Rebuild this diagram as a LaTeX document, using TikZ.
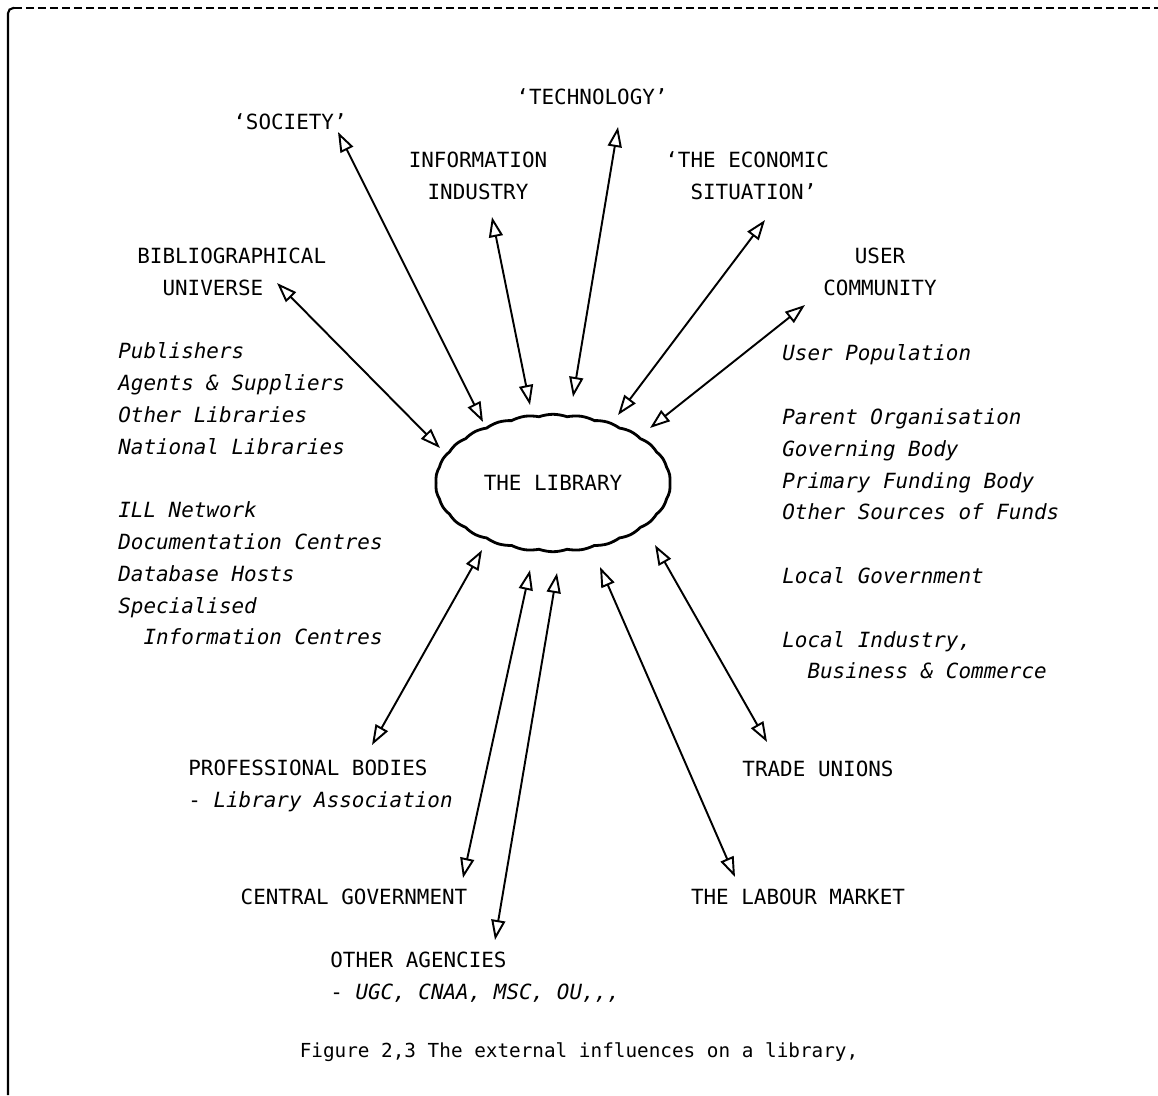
\documentclass[tikz,border=0pt]{standalone}
\usepackage{fontspec}
\setmainfont{DejaVu Sans Mono}
\usetikzlibrary{arrows.meta, shapes.symbols}

\begin{document}
\begin{tikzpicture}[
    x=0.02cm, y=-0.02cm,
    influence/.style={
        inner sep=0pt,
        font=\fontsize{11.9}{18.1}\selectfont
    },
    detail/.style={
        inner sep=0pt,
        align=left,
        anchor=west,
        font=\fontsize{11.9}{18.1}\selectfont\itshape
    },
    library/.style={
        cloud,
        draw,
        line width=1.6pt,
        cloud puffs=26,
        cloud puff arc=40,
        aspect=1.7,
        minimum width=4.7cm,
        minimum height=2.75cm,
        inner sep=0pt,
        font=\fontsize{11.9}{18.1}\selectfont
    },
    link/.style={{Triangle[open,length=4mm,width=2.8mm]}-{Triangle[open,length=4mm,width=2.8mm]}, line width=1.1pt}
]
\useasboundingbox (0,0) rectangle (1158,1095);

% frame of the page
\draw[line width=1.2pt, rounded corners=3pt] (8,1095) -- (8,8) -- (14,8);
\draw[line width=1.5pt, dash pattern=on 1.7mm off 0.7mm] (14,8) -- (1158,8);

% the library
\node[library] (lib) at (553,483) {THE LIBRARY};

% upper influences
\node[influence] (society) at (290,122) {`SOCIETY'};
\node[influence] (tech) at (592,97) {`TECHNOLOGY'};
\node[influence, align=center] (infoind) at (478,176) {INFORMATION\\INDUSTRY};
\node[influence, align=left, anchor=west] (economy) at (665,176) {`THE ECONOMIC\\\phantom{`T}SITUATION'};
\node[influence, align=left, anchor=west] (biblio) at (137,272) {BIBLIOGRAPHICAL\\\phantom{BI}UNIVERSE};
\node[influence, align=center] (users) at (880,272) {USER\\COMMUNITY};

% lists beside the library
\node[detail] (suppliers) at (118,496) {Publishers\\Agents \& Suppliers\\Other Libraries\\National Libraries\\[18.1pt]ILL Network\\Documentation Centres\\Database Hosts\\Specialised\\\phantom{Sp}Information Centres};
\node[detail] (funders) at (782,512) {User Population\\[18.1pt]Parent Organisation\\Governing Body\\Primary Funding Body\\Other Sources of Funds\\[18.1pt]Local Government\\[18.1pt]Local Industry,\\\phantom{Lo}Business \& Commerce};

% lower influences
\node[influence, align=left, anchor=west] (prof) at (188,786) {PROFESSIONAL BODIES\\- \textit{Library Association}};
\node[influence] (central) at (354,897) {CENTRAL GOVERNMENT};
\node[influence, align=left, anchor=west] (agencies) at (330,977) {OTHER AGENCIES\\- \textit{UGC, CNAA, MSC, OU,{},{},}};
\node[influence] (unions) at (818,769) {TRADE UNIONS};
\node[influence] (labour) at (798,897) {THE LABOUR MARKET};

\node[influence, font=\fontsize{11}{13}\selectfont] (caption) at (579,1052) {Figure 2,3 The external influences on a library,};

% arrow ends
\coordinate (societyEnd) at (338,132);
\coordinate (societyLib) at (483,422);
\coordinate (infoEnd) at (492,217);
\coordinate (infoLib) at (530,405);
\coordinate (techEnd) at (618,127);
\coordinate (techLib) at (573,397);
\coordinate (economyEnd) at (765,220);
\coordinate (economyLib) at (618,415);
\coordinate (usersEnd) at (805,305);
\coordinate (usersLib) at (650,428);
\coordinate (biblioEnd) at (277,283);
\coordinate (biblioLib) at (440,448);
\coordinate (profEnd) at (372,745);
\coordinate (profLib) at (482,550);
\coordinate (centralEnd) at (463,878);
\coordinate (centralLib) at (530,570);
\coordinate (agenciesEnd) at (495,940);
\coordinate (agenciesLib) at (557,573);
\coordinate (labourEnd) at (735,877);
\coordinate (labourLib) at (600,567);
\coordinate (unionsEnd) at (767,742);
\coordinate (unionsLib) at (655,545);

\draw[link] (societyEnd) -- (societyLib);
\draw[link] (infoEnd) -- (infoLib);
\draw[link] (techEnd) -- (techLib);
\draw[link] (economyEnd) -- (economyLib);
\draw[link] (usersEnd) -- (usersLib);
\draw[link] (biblioEnd) -- (biblioLib);
\draw[link] (profEnd) -- (profLib);
\draw[link] (centralEnd) -- (centralLib);
\draw[link] (agenciesEnd) -- (agenciesLib);
\draw[link] (labourEnd) -- (labourLib);
\draw[link] (unionsEnd) -- (unionsLib);

\end{tikzpicture}
\end{document}
